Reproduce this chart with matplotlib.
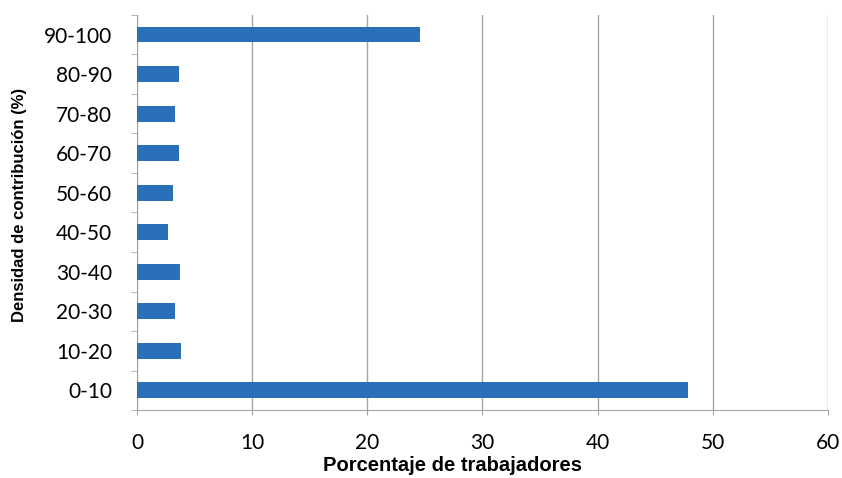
import numpy as np
import matplotlib.pyplot as plt

# datos
rangos = ['0-10', '10-20', '20-30', '30-40', '40-50', '50-60',
          '60-70', '70-80', '80-90', '90-100']
porcentajes = [47.9, 3.8, 3.3, 3.7, 2.7, 3.1, 3.6, 3.3, 3.6, 24.6]
ticks_x = [0, 10, 20, 30, 40, 50, 60]

color_barra = '#2A70B9'
color_linea = '#A6A6A6'

fig = plt.figure(figsize=(8.42, 4.78), dpi=100)
ax = fig.add_axes([0.163, 0.142, 0.820, 0.827])

pos = np.arange(len(rangos))
ax.barh(pos, porcentajes, height=0.4, color=color_barra, zorder=3)

ax.set_xlim(0, 60)
ax.set_ylim(-0.5, len(rangos) - 0.5)
ax.set_xticks(ticks_x)
ax.set_xticklabels([str(t) for t in ticks_x], fontsize=15, family='Lato')
ax.set_yticks(pos)
ax.set_yticklabels(rangos, fontsize=15, family='Lato')
ax.tick_params(axis='y', length=0, pad=18)
ax.tick_params(axis='x', length=3.5, color=color_linea, pad=13)

# marcas entre categorias (estilo excel)
ax.set_yticks(np.arange(-0.5, len(rangos), 1), minor=True)
ax.tick_params(axis='y', which='minor', length=4, color=color_linea)

ax.grid(axis='x', color=color_linea, linewidth=1, zorder=0)
for lado in ['top', 'right']:
    ax.spines[lado].set_visible(False)
for lado in ['left', 'bottom']:
    ax.spines[lado].set_color(color_linea)

ax.set_xlabel('Porcentaje de trabajadores', fontsize=14.5, fontweight='bold',
              family='Liberation Sans', va='center')
ax.xaxis.set_label_coords(0.457, -0.14)
ax.set_ylabel('Densidad de contribución (%)', fontsize=12, fontweight='bold',
              family='Liberation Sans', va='center')
ax.yaxis.set_label_coords(-0.171, 0.52)

fig.savefig('out.png', dpi=100)
